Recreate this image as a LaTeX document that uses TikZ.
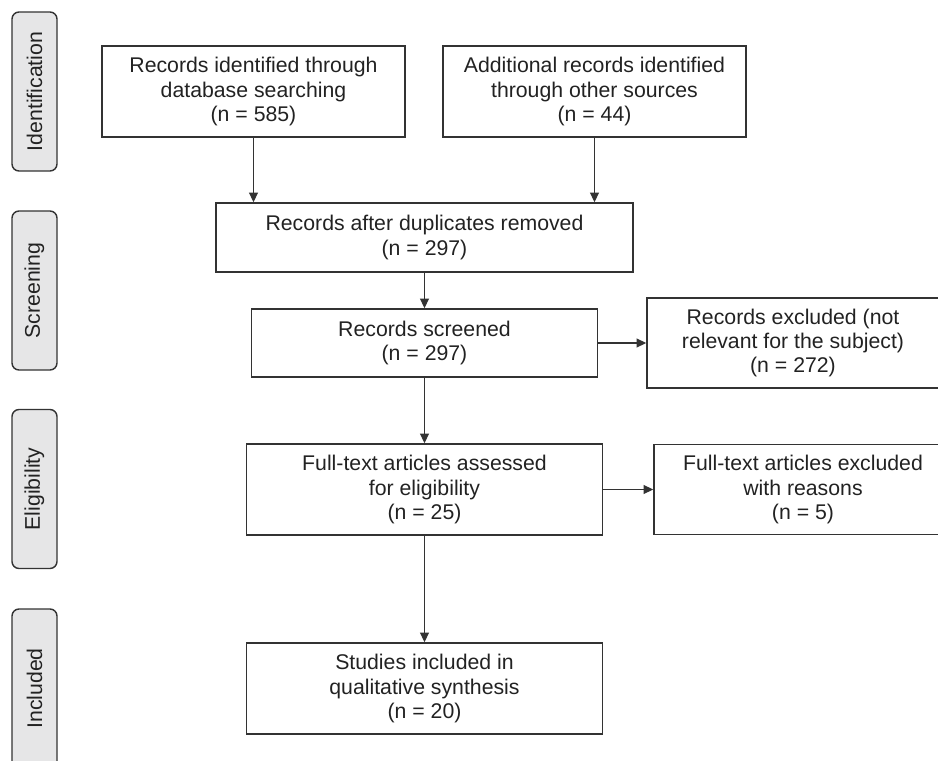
\documentclass[tikz,border=0pt]{standalone}
\usepackage{fontspec}
\setmainfont{Liberation Sans}
\usetikzlibrary{positioning,arrows.meta,calc}
\definecolor{linegray}{HTML}{333333}
\definecolor{textgray}{HTML}{222222}
\definecolor{phasegray}{HTML}{E6E6E7}
\tikzset{
  flowbox/.style={draw=linegray, line width=0.8pt, align=center, inner sep=0pt,
    text=textgray, font=\fontsize{12.1}{13.9}\selectfont},
  phasebox/.style={draw=linegray, line width=0.8pt, fill=phasegray, rounded corners=4pt,
    minimum width=159*0.02cm, minimum height=45*0.02cm, rotate=90, inner sep=0pt,
    text=textgray, font=\fontsize{12.1}{13.9}\selectfont},
  flowarrow/.style={draw=linegray, line width=0.8pt, -{Triangle[length=5.5pt,width=5pt]}}
}
\begin{document}
\begin{tikzpicture}[x=0.02cm,y=-0.02cm]
			%\draw[step=50,black,very thin] (0,0) grid (938,761);
			\useasboundingbox (0,0) rectangle (938,761);
			\clip (0,0) rectangle (938,761);
			% phases
			\node[phasebox] (ident) at (34.5,91.5) {Identification};
			\node[phasebox] (screen) at (34.5,290.5) {Screening};
			\node[phasebox] (elig) at (34.5,489) {Eligibility};
			\node[phasebox] (incl) at (34.5,688.5) {Included};
			% boxes
			\node[flowbox, minimum width=303*0.02cm, minimum height=91*0.02cm] (dbsearch) at (253.5,91.5)
				{Records identified through\\database searching\\(n = 585)};
			\node[flowbox, minimum width=303*0.02cm, minimum height=91*0.02cm] (other) at (594.5,91.5)
				{Additional records identified\\through other sources\\(n = 44)};
			\node[flowbox, minimum width=417*0.02cm, minimum height=69*0.02cm] (dupl) at (424.5,237.5)
				{Records after duplicates removed\\(n = 297)};
			\node[flowbox, minimum width=346*0.02cm, minimum height=68*0.02cm] (screened) at (424.5,343)
				{Records screened\\(n = 297)};
			\node[flowbox, minimum width=292*0.02cm, minimum height=90*0.02cm] (excl) at (793,343)
				{Records excluded (not\\relevant for the subject)\\(n = 272)};
			\node[flowbox, minimum width=356*0.02cm, minimum height=91*0.02cm] (fulltext) at (424.5,489.5)
				{Full-text articles assessed\\for eligibility\\(n = 25)};
			\node[flowbox, minimum width=298*0.02cm, minimum height=90*0.02cm] (ftexcl) at (803,489.5)
				{Full-text articles excluded\\with reasons\\(n = 5)};
			\node[flowbox, minimum width=356*0.02cm, minimum height=91*0.02cm] (studies) at (424.5,688.5)
				{Studies included in\\qualitative synthesis\\(n = 20)};
			% arrows
			\draw[flowarrow] (dbsearch.south) -- (dbsearch.south |- dupl.north);
			\draw[flowarrow] (other.south) -- (other.south |- dupl.north);
			\draw[flowarrow] (dupl.south) -- (screened.north);
			\draw[flowarrow] (screened.east) -- (screened.east -| excl.west);
			\draw[flowarrow] (screened.south) -- (fulltext.north);
			\draw[flowarrow] (fulltext.east) -- (fulltext.east -| ftexcl.west);
			\draw[flowarrow] (fulltext.south) -- (studies.north);
		\end{tikzpicture}
\end{document}
